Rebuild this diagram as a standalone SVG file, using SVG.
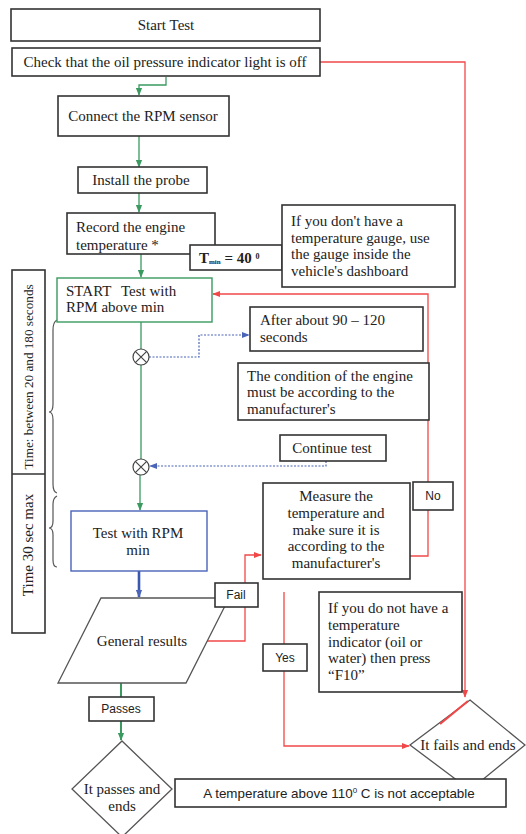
<svg xmlns="http://www.w3.org/2000/svg" width="526" height="834" viewBox="0 0 526 834">
<defs>
<style>
.box{fill:#fff;stroke:#333;stroke-width:1.6}
.t{font-family:"Liberation Serif","DejaVu Serif",serif;font-size:15px;fill:#222}
.s{font-family:"Liberation Sans","DejaVu Sans",sans-serif;font-size:12px;fill:#222}
.m{text-anchor:middle}
.g{fill:none;stroke:#3a9a60;stroke-width:1.3}
.r{fill:none;stroke:#f04848;stroke-width:1.3}
.b{fill:none;stroke:#4a64b8;stroke-width:1.2;stroke-dasharray:2 1.5}
.br{fill:none;stroke:#555;stroke-width:1.2}
</style>
<marker id="ag" viewBox="0 0 10 10" refX="9" refY="5" markerWidth="8" markerHeight="8" markerUnits="userSpaceOnUse" orient="auto"><path d="M0,1 L10,5 L0,9 z" fill="#3a9a60"/></marker>
<marker id="ar" viewBox="0 0 10 10" refX="9" refY="5" markerWidth="8" markerHeight="8" markerUnits="userSpaceOnUse" orient="auto"><path d="M0,1 L10,5 L0,9 z" fill="#f04848"/></marker>
<marker id="ab" viewBox="0 0 10 10" refX="9" refY="5" markerWidth="8" markerHeight="8" markerUnits="userSpaceOnUse" orient="auto"><path d="M0,1 L10,5 L0,9 z" fill="#4a64b8"/></marker>
<clipPath id="recclip"><rect x="67" y="213" width="148" height="40"/></clipPath>
</defs>
<rect width="526" height="834" fill="#fff"/>

<g id="connectors">
<path class="r" d="M320,62 H465 V697" marker-end="url(#ar)"/>
<path class="g" d="M166,77 V85 H139 V95" marker-end="url(#ag)"/>
<path class="g" d="M139,136 V167" marker-end="url(#ag)"/>
<path class="g" d="M139,193 V212" marker-end="url(#ag)"/>
<path class="g" d="M141,254 V277" marker-end="url(#ag)"/>
<path class="g" d="M141,322 V349 M141,365 V459 M140,475 V510" marker-end="url(#ag)"/>
<path class="b" d="M149,357 H199 V335 H249" marker-end="url(#ab)"/>
<path class="b" d="M326,461 V466 H150" marker-end="url(#ab)"/>
<path class="r" d="M410,556 H428 V294 H213" marker-end="url(#ar)"/>
<path d="M139,571 V597" fill="none" stroke="#3a58b0" stroke-width="2.6" marker-end="url(#ab)"/>
<path class="r" d="M207,641 H245 V555 H261" marker-end="url(#ar)"/>
<path class="r" d="M284,592 V746 H409" marker-end="url(#ar)"/>
<path d="M121,683 V697 M121,721 V740" fill="none" stroke="#3a9a60" stroke-width="2" marker-end="url(#ag)"/>
<path class="br" d="M57,320 Q53,322 53,330 V404 Q53,412 49,412 Q53,412 53,420 V484 Q53,492 57,493"/>
<path class="br" d="M57,496 Q53,498 53,504 V521 Q53,528 49,528 Q53,528 53,535 V560 Q53,567 57,567"/>
</g>

<g id="start-test"><rect class="box" x="11" y="9" width="309" height="32"/><text class="t m" x="166" y="30">Start Test</text></g>
<g id="check-oil"><rect class="box" x="12" y="48" width="308" height="28"/><text class="t m" x="165" y="67">Check that the oil pressure indicator light is off</text></g>
<g id="connect-rpm"><rect class="box" x="58" y="96" width="171" height="40"/><text class="t m" x="143" y="121">Connect the RPM sensor</text></g>
<g id="install-probe"><rect class="box" x="78" y="167" width="129" height="26"/><text class="t m" x="141" y="185">Install the probe</text></g>
<g id="record-temp"><rect class="box" x="67" y="213" width="148" height="41"/><g clip-path="url(#recclip)"><text class="t" x="76" y="232">Record the engine</text><text class="t" x="76" y="250">temperature *</text></g></g>
<g id="tmin"><rect class="box" x="190" y="245" width="92" height="25"/><text class="t" x="199" y="263" font-weight="bold">T<tspan style="font-size:7px" dy="1">min</tspan><tspan dy="-1"> = 40 </tspan><tspan style="font-size:8px" dy="-4">0</tspan></text></g>
<g id="gauge-note"><rect class="box" x="282" y="205" width="173" height="82"/><text class="t" x="291" y="226">If you don't have a</text><text class="t" x="291" y="243">temperature gauge, use</text><text class="t" x="291" y="259">the gauge inside the</text><text class="t" x="291" y="276">vehicle's dashboard</text></g>
<g id="start-rpm-above"><rect x="57" y="278" width="155" height="44" fill="#fff" stroke="#3a9a60" stroke-width="1.4"/><text class="t" x="66" y="296">START<tspan x="121">Test with</tspan></text><text class="t" x="66" y="312">RPM above min</text></g>
<g id="after-90"><rect class="box" x="250" y="307" width="173" height="44"/><text class="t" x="260" y="325">After about 90 – 120</text><text class="t" x="260" y="342">seconds</text></g>
<g id="junction-1"><circle cx="141" cy="357" r="8" fill="#fff" stroke="#444" stroke-width="1.2"/><path d="M135.3,351.3 L146.7,362.7 M146.7,351.3 L135.3,362.7" stroke="#444" stroke-width="1.2"/></g>
<g id="condition-note"><rect class="box" x="238" y="363" width="191" height="57"/><text class="t" x="247" y="381">The condition of the engine</text><text class="t" x="247" y="397">must be according to the</text><text class="t" x="247" y="414">manufacturer's</text></g>
<g id="continue-test"><rect class="box" x="280" y="435" width="106" height="26"/><text class="t m" x="332" y="453">Continue test</text></g>
<g id="junction-2"><circle cx="141" cy="467" r="8" fill="#fff" stroke="#444" stroke-width="1.2"/><path d="M135.3,461.3 L146.7,472.7 M146.7,461.3 L135.3,472.7" stroke="#444" stroke-width="1.2"/></g>
<g id="test-rpm-min"><rect x="71" y="511" width="136" height="60" fill="#fff" stroke="#4a64b8" stroke-width="1.4"/><text class="t m" x="138" y="538">Test with RPM</text><text class="t m" x="138" y="555">min</text></g>
<g id="measure-temp"><rect class="box" x="263" y="483" width="147" height="96"/><text class="t m" x="336" y="501">Measure the</text><text class="t m" x="336" y="518">temperature and</text><text class="t m" x="336" y="535">make sure it is</text><text class="t m" x="336" y="551">according to the</text><text class="t m" x="336" y="568">manufacturer's</text></g>
<g id="no-label"><rect class="box" x="413" y="482" width="40" height="28"/><text class="s m" x="433" y="500">No</text></g>
<g id="general-results"><path d="M101,598 H229 L186,683 H58 Z" fill="#fff" stroke="#555" stroke-width="1.3"/><text class="t m" x="142" y="646">General results</text></g>
<g id="fail-label"><rect class="box" x="215" y="583" width="43" height="24"/><text class="s m" x="236" y="599">Fail</text></g>
<g id="f10-note"><rect class="box" x="319" y="592" width="143" height="100"/><text class="t" x="328" y="613">If you do not have a</text><text class="t" x="328" y="630">temperature</text><text class="t" x="328" y="647">indicator (oil or</text><text class="t" x="328" y="663">water) then press</text><text class="t" x="328" y="680">“F10”</text></g>
<g id="yes-label"><rect class="box" x="263" y="644" width="44" height="27"/><text class="s m" x="285" y="662">Yes</text></g>
<g id="passes-label"><rect class="box" x="89" y="697" width="65" height="24"/><text class="s m" x="121" y="713">Passes</text></g>
<g id="fails-ends"><path d="M470,700 L525,745 L470,790 L410,745 Z" fill="#fff" stroke="#555" stroke-width="1.3"/><path d="M468,701 L440,724" stroke="#f04848" stroke-width="2.2"/><text class="t m" x="468" y="750">It fails and ends</text></g>
<g id="passes-ends"><path d="M122,741 L172,789 L122,837 L72,789 Z" fill="#fff" stroke="#555" stroke-width="1.3"/><text class="t m" x="122" y="794">It passes and</text><text class="t m" x="122" y="811">ends</text></g>
<g id="temp-note"><rect class="box" x="175" y="779" width="331" height="28"/><text class="s m" x="339" y="798" style="font-size:13.4px">A temperature  above 110<tspan style="font-size:8px" dy="-5">0</tspan><tspan dy="5"> C is  not  acceptable</tspan></text></g>
<g id="time-box"><rect class="box" x="12" y="270" width="33" height="363"/><line x1="12" y1="474" x2="45" y2="474" stroke="#333" stroke-width="1.6"/><text class="t m" style="font-size:13.2px" transform="translate(33,377) rotate(-90)">Time: between 20 and 180 seconds</text><text class="t m" transform="translate(33,545) rotate(-90)">Time 30 sec max</text></g>
</svg>
